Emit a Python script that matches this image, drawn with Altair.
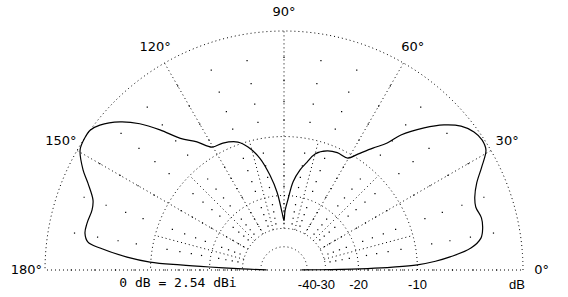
import altair as alt
import pandas as pd

# Elevation pattern (degrees above horizon, dB relative to max)
angles = [0.2, 0.5, 1.0, 1.5, 2.2, 3.3, 4.5, 6.7, 9.2, 11.9, 14.8, 18.2, 20.9, 24.3,
          27.5, 30.7, 33.3, 36.0, 39.1, 42.2, 45.4, 49.1, 50.9, 53.9, 57.5, 60.3,
          65.6, 70.1, 75.0, 78.0, 80.9, 84.1, 86.7, 89.0, 90.0, 92.0, 95.1, 98.4,
          102.1, 106.3, 109.8, 115.7, 120.3, 124.2, 128.2, 131.5, 134.6, 137.9,
          141.8, 144.2, 146.5, 149.5, 153.5, 156.1, 159.9, 162.6, 166.6, 169.5,
          171.9, 173.2, 175.3, 176.6, 177.2, 177.7, 178.5, 179.5]
gains = [-45, -28, -18, -13.5, -10, -7.8, -6.2, -4.1, -3.1, -2.8, -2.7, -2.9, -2.7, -2.1,
         -1.2, -0.3, -0.15, -0.3, -0.8, -1.74, -3.1, -5.0, -6.5, -7.9, -9.5, -10.6,
         -10.6, -10.9, -11.8, -13.3, -14.7, -17.0, -20.8, -24.0, -27.0, -24.3, -19.2, -15.7,
         -12.7, -10.7, -9.68, -9.07, -8.9, -7.45, -6.1, -4.2, -2.6, -1.35,
         -0.34, 0.0, 0.0, -0.17, -1.07, -1.86, -2.77, -2.96, -2.85, -2.85,
         -3.23, -4.37, -7.16, -9.9, -14.3, -20.0, -30.0, -45.0]

ring_db = [0, -10, -20, -30, -40]
spoke_major = [0, 30, 60, 90, 120, 150, 180]
spoke_minor = [15, 45, 75, 105, 135, 165]
dot_angles = list(range(0, 181, 10))
dot_db = [-2, -4, -6, -8, -12, -14, -16, -18, -22, -24, -26, -28]
angle_label_vals = [0, 30, 60, 90, 120, 150, 180]
angle_label_text = ["0°", "30°", "60°", "90°", "120°", "150°", "180°"]
db_label_vals = [-10, -20, -30, -40]
db_label_text = ["-10", "-20", "-30", "-40"]
unit_text = "dB"
ref_text = "0 dB = 2.54 dBi"

# ARRL log scale: radius = 0.89 ^ (-dB/2)
R = "pow(0.89, -datum.db/2)"

xs = alt.Scale(domain=[-1.1883, 1.1883], nice=False, zero=False)
ys = alt.Scale(domain=[-0.11297, 1.12971], nice=False, zero=False)
DOT = [1, 3]

pattern = pd.DataFrame({"a": angles, "db": gains})
rings = pd.DataFrame([{"ring": r, "a": a} for r in ring_db for a in range(0, 181, 1)])
rings["db"] = rings["ring"]
spokes = pd.DataFrame(
    [{"a": a, "db_in": (-200 if a in (0, 180) else -30), "db_out": 0} for a in spoke_major]
    + [{"a": a, "db_in": -30, "db_out": -10} for a in spoke_minor]
)
dots = pd.DataFrame([{"a": a, "db": d} for a in dot_angles for d in dot_db])
alabels = pd.DataFrame({"a": angle_label_vals, "t": angle_label_text})
dlabels = pd.DataFrame({"db": db_label_vals, "t": db_label_text})


def polar(chart, rexpr=R):
    return chart.transform_calculate(
        r=rexpr
    ).transform_calculate(
        x="datum.r*cos(datum.a*PI/180)", y="datum.r*sin(datum.a*PI/180)"
    )


ring_layer = polar(alt.Chart(rings)).mark_line(
    color="black", strokeWidth=1, strokeDash=DOT
).encode(
    x=alt.X("x:Q", scale=xs, axis=None),
    y=alt.Y("y:Q", scale=ys, axis=None),
    detail="ring:N",
    order="a:Q",
)

spoke_layer = alt.Chart(spokes).transform_calculate(
    r1="pow(0.89, -datum.db_in/2)", r2="pow(0.89, -datum.db_out/2)"
).transform_calculate(
    x="datum.r1*cos(datum.a*PI/180)", y="datum.r1*sin(datum.a*PI/180)",
    x2="datum.r2*cos(datum.a*PI/180)", y2="datum.r2*sin(datum.a*PI/180)",
).mark_rule(color="black", strokeWidth=1, strokeDash=DOT).encode(
    x=alt.X("x:Q", scale=xs, axis=None),
    y=alt.Y("y:Q", scale=ys, axis=None),
    x2="x2:Q",
    y2="y2:Q",
)

dot_layer = polar(alt.Chart(dots)).mark_square(
    color="black", size=1.5, opacity=1
).encode(
    x=alt.X("x:Q", scale=xs, axis=None),
    y=alt.Y("y:Q", scale=ys, axis=None),
)

curve_layer = polar(alt.Chart(pattern)).mark_line(
    color="black", strokeWidth=1.2, interpolate="catmull-rom"
).encode(
    x=alt.X("x:Q", scale=xs, axis=None),
    y=alt.Y("y:Q", scale=ys, axis=None),
    order="a:Q",
)

alabel_layer = polar(alt.Chart(alabels), "1.078").mark_text(
    font="DejaVu Sans", fontSize=13, color="black", align="center", baseline="middle"
).encode(
    x=alt.X("x:Q", scale=xs, axis=None),
    y=alt.Y("y:Q", scale=ys, axis=None),
    text="t:N",
)

dlabel_layer = alt.Chart(dlabels).transform_calculate(
    x=R
).mark_text(
    font="Liberation Sans", fontSize=13, color="black", align="center", baseline="middle"
).encode(
    x=alt.X("x:Q", scale=xs, axis=None),
    y=alt.value(285),
    text="t:N",
)

unit_layer = alt.Chart(pd.DataFrame({"t": [unit_text]})).mark_text(
    font="Liberation Sans", fontSize=13, color="black", align="center", baseline="middle"
).encode(x=alt.value(517), y=alt.value(285), text="t:N")

ref_layer = alt.Chart(pd.DataFrame({"t": [ref_text]})).mark_text(
    font="DejaVu Sans Mono", fontSize=13, color="black", align="center", baseline="middle"
).encode(x=alt.value(178), y=alt.value(283), text="t:N")

chart = alt.layer(
    ring_layer, spoke_layer, dot_layer, curve_layer,
    alabel_layer, dlabel_layer, unit_layer, ref_layer,
).properties(
    width=568, height=297, autosize=alt.AutoSizeParams(type="none"), padding=0,
    background="white",
).configure_view(stroke=None)

chart.save("out.html", embed_options={"renderer": "svg", "actions": False})
